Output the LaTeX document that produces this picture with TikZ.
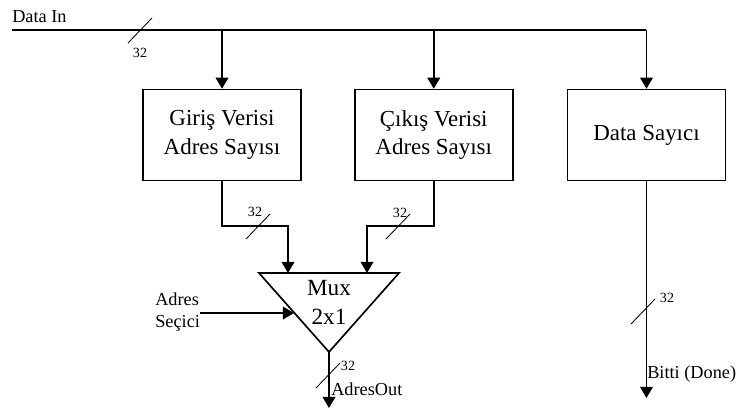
\documentclass[tikz,border=0pt]{standalone}
\usepackage{fontspec}
\setmainfont{Liberation Serif}
\usetikzlibrary{positioning,arrows.meta}

\tikzset{
  block/.style={draw, line width=1.2pt, minimum width=3.95cm, minimum height=2.27cm,
    align=center, font=\fontsize{16.3}{20.5}\selectfont},
  sig/.style={line width=1.1pt},
  sigarrow/.style={sig, -{Triangle[length=0.28cm,width=0.32cm]}},
  busmark/.style={line width=0.6pt},
  lbl/.style={inner sep=0pt, font=\fontsize{13}{15.5}\selectfont},
  wlbl/.style={inner sep=0pt, font=\fontsize{10}{12}\selectfont}
}

\begin{document}
\begin{tikzpicture}[x=0.025cm, y=-0.025cm]
  \useasboundingbox (0,0) rectangle (740,417);

  % Define nodes
  \node[block]                      (giris) at (222,135) {Giriş Verisi\\Adres Sayısı};
  \node[block, right=1.3cm of giris] (cikis) {Çıkış Verisi\\Adres Sayısı};
  \node[block, right=1.325cm of cikis] (sayici) {Data Sayıcı};

  % Mux triangle
  \coordinate (mux tl) at (259,273);
  \coordinate (mux tr) at (399,273);
  \coordinate (mux apex) at (329,352);
  \draw[line width=1.2pt, line join=miter] (mux tl) -- (mux tr) -- (mux apex) -- cycle;
  \node[align=center, inner sep=0pt, font=\fontsize{16.5}{20.6}\selectfont] (mux) at (329,302) {Mux\\2x1};
  \coordinate (mux in1) at (288,273);
  \coordinate (mux in2) at (367,273);
  \coordinate (mux sel) at (294,313);

  % Input bus
  \node[lbl, anchor=base west] (datain) at (12,22) {Data In};
  \coordinate (in) at (12,30);
  \coordinate (j1) at (giris.north |- in);
  \coordinate (j2) at (cikis.north |- in);
  \coordinate (j3) at (sayici.north |- in);
  \draw[sig] (in) -- (j3);
  \draw[sigarrow] (j3) -- (sayici.north);
  \draw[sigarrow] (j1) -- (giris.north);
  \draw[sigarrow] (j2) -- (cikis.north);
  \draw[busmark] (140,30) +(-12,13) -- +(12,-12);
  \node[wlbl] (w0) at (140,53) {32};

  % Counters into mux
  \draw[sigarrow] (giris.south) -- (giris.south |- 0,226) -| (mux in1);
  \draw[sigarrow] (cikis.south) -- (cikis.south |- 0,226) -| (mux in2);
  \draw[busmark] (258,226) +(-12,13) -- +(12,-12);
  \node[wlbl] (w1) at (255,212) {32};
  \draw[busmark] (398,226) +(-12,13) -- +(12,-12);
  \node[wlbl] (w2) at (400,213) {32};

  % Select input
  \node[lbl, anchor=west, align=left] (secici) at (155,312) {Adres\\Seçici};
  \draw[sigarrow] (secici.east |- mux sel) -- (mux sel);

  % Mux output
  \coordinate (out) at (329,408);
  \draw[sigarrow] (mux apex) -- (out);
  \draw[busmark] (328,375) +(-12,13) -- +(12,-12);
  \node[wlbl] (w3) at (348,366) {32};
  \node[lbl, anchor=west] (adresout) at (331,389) {AdresOut};

  % Done output
  \coordinate (done) at (sayici.south |- 0,398);
  \draw[sigarrow] (sayici.south) -- (done);
  \draw[busmark] (643,311) +(-12,13) -- +(12,-12);
  \node[wlbl] (w4) at (667,298) {32};
  \node[lbl, anchor=west] (bitti) at (647,374) {Bitti (Done)};
\end{tikzpicture}
\end{document}
